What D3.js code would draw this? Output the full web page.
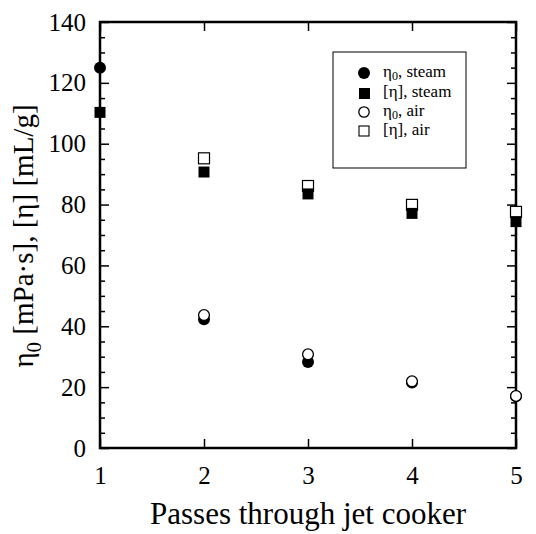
<!DOCTYPE html>
<html>
<head>
<meta charset="utf-8">
<script src="https://cdn.jsdelivr.net/npm/d3@7"></script>
<style>
  body { margin: 0; background: #fff; }
  svg text { font-family: "Liberation Serif", serif !important; fill: #000; }
  .tick text { font-size: 25px; }
  .leyenda text { font-size: 17px; }
  .leyenda .sub { font-size: 12px; }
</style>
</head>
<body>
<div id="chart"></div>
<script>
// datos
const passes = [1, 2, 3, 4, 5];
const eta0Steam = [125, 42.3, 28.3, 21.5, 17];
const intrSteam = [110.3, 90.7, 83.5, 77.1, 74.4];
const eta0Air = [null, 43.7, 30.8, 21.9, 17.1];
const intrAir = [null, 95.2, 86.1, 79.9, 77.6];
const xTicks = [1, 2, 3, 4, 5];
const yTicks = [0, 20, 40, 60, 80, 100, 120, 140];

const W = 536, H = 534;
const margin = { top: 22, right: 20, bottom: 86, left: 100 };
const width = W - margin.left - margin.right;
const height = H - margin.top - margin.bottom;

const svg = d3.select("#chart").append("svg")
  .attr("width", W).attr("height", H);
const g = svg.append("g")
  .attr("transform", "translate(" + margin.left + "," + margin.top + ")");

const x = d3.scaleLinear().domain([1, 5]).range([0, width]);
const y = d3.scaleLinear().domain([0, 140]).range([height, 0]);
const yMinor = d3.range(0, 141, 5).filter(v => v % 20 !== 0);

// ejes (ticks hacia dentro)
g.append("g").call(d3.axisLeft(y).tickValues(yTicks).tickSize(-9).tickPadding(14).tickFormat(d3.format("d")));
g.append("g").attr("transform", "translate(" + width + ",0)")
  .call(d3.axisRight(y).tickValues(yTicks).tickSize(-9).tickFormat(""));
g.append("g").attr("transform", "translate(0," + height + ")")
  .call(d3.axisBottom(x).tickValues(xTicks).tickSize(-9).tickPadding(18).tickFormat(d3.format("d")));
g.append("g").call(d3.axisTop(x).tickValues(xTicks).tickSize(-9).tickFormat(""));
g.append("g").call(d3.axisLeft(y).tickValues(yMinor).tickSize(-5).tickFormat(""));
g.append("g").attr("transform", "translate(" + width + ",0)")
  .call(d3.axisRight(y).tickValues(yMinor).tickSize(-5).tickFormat(""));

g.selectAll("g").attr("font-family", null).attr("font-size", null);
g.selectAll(".domain").remove();
g.selectAll(".tick line").attr("stroke", "#000").attr("stroke-width", 1.5);
g.selectAll(".tick text").attr("fill", "#000");

g.append("rect")
  .attr("x", 0).attr("y", 0).attr("width", width).attr("height", height)
  .attr("fill", "none").attr("stroke", "#000").attr("stroke-width", 2.5);

// marcadores
const sq = 11, r = 6;
function pts(vals) {
  return passes.map((p, i) => ({ p: p, v: vals[i] })).filter(d => d.v != null);
}
g.selectAll("rect.intrAir").data(pts(intrAir)).enter().append("rect")
  .attr("x", d => x(d.p) - sq / 2).attr("y", d => y(d.v) - sq / 2)
  .attr("width", sq).attr("height", sq)
  .attr("fill", "#fff").attr("stroke", "#000").attr("stroke-width", 1.2);
g.selectAll("rect.intrSteam").data(pts(intrSteam)).enter().append("rect")
  .attr("x", d => x(d.p) - sq / 2).attr("y", d => y(d.v) - sq / 2)
  .attr("width", sq).attr("height", sq).attr("fill", "#000");
g.selectAll("circle.eta0Steam").data(pts(eta0Steam)).enter().append("circle")
  .attr("cx", d => x(d.p)).attr("cy", d => y(d.v)).attr("r", r).attr("fill", "#000");
g.selectAll("circle.eta0Air").data(pts(eta0Air)).enter().append("circle")
  .attr("cx", d => x(d.p)).attr("cy", d => y(d.v)).attr("r", r - 0.6)
  .attr("fill", "#fff").attr("stroke", "#000").attr("stroke-width", 1.3);

// leyenda
const leg = svg.append("g").attr("class", "leyenda").attr("transform", "translate(333,52)");
leg.append("rect").attr("width", 133).attr("height", 116)
  .attr("fill", "#fff").attr("stroke", "#000").attr("stroke-width", 1);
const items = [
  { t: "steam", kind: "circle", fill: "#000", sub: true },
  { t: "steam", kind: "square", fill: "#000", sub: false },
  { t: "air", kind: "circle", fill: "#fff", sub: true },
  { t: "air", kind: "square", fill: "#fff", sub: false }
];
const rowY = [21, 41, 60, 79];
items.forEach((it, i) => {
  const cy = rowY[i];
  if (it.kind === "circle") {
    leg.append("circle").attr("cx", 31).attr("cy", cy).attr("r", it.fill === "#000" ? 6 : 5.2)
      .attr("fill", it.fill).attr("stroke", "#000").attr("stroke-width", it.fill === "#000" ? 0 : 1.3);
  } else {
    leg.append("rect").attr("x", 26).attr("y", cy - 5).attr("width", it.fill === "#000" ? 11 : 10)
      .attr("height", it.fill === "#000" ? 11 : 10)
      .attr("fill", it.fill).attr("stroke", "#000").attr("stroke-width", it.fill === "#000" ? 0 : 1.1);
  }
  const tx = leg.append("text").attr("x", 50).attr("y", cy + 4);
  if (it.sub) {
    tx.append("tspan").text("η");
    tx.append("tspan").attr("class", "sub").attr("dy", 3).text("0");
    tx.append("tspan").attr("dy", -3).text(", " + it.t);
  } else {
    tx.append("tspan").text("[η], " + it.t);
  }
});

// titulos de ejes
svg.append("text")
  .attr("x", margin.left + width / 2).attr("y", 524)
  .attr("text-anchor", "middle").style("font-size", "31px")
  .text("Passes through jet cooker");

const yl = svg.append("text")
  .attr("transform", "translate(33,236) rotate(-90)")
  .attr("text-anchor", "middle").style("font-size", "29px");
yl.append("tspan").text("η");
yl.append("tspan").attr("dy", 8).style("font-size", "21px").text("0");
yl.append("tspan").attr("dy", -8).text(" [mPa·s], [η] [mL/g]");
</script>
</body>
</html>
